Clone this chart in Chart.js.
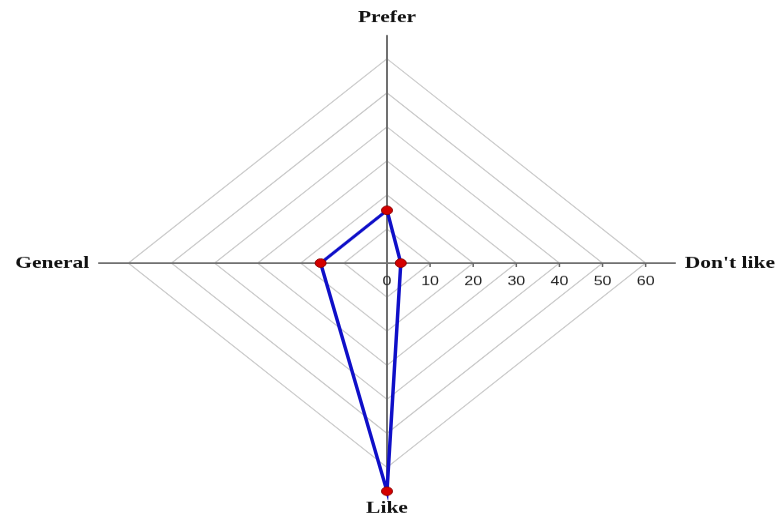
<!DOCTYPE html>
<html>
<head>
<meta charset="utf-8">
<script src="https://cdn.jsdelivr.net/npm/chart.js@4/dist/chart.umd.min.js"></script>
<style>
    html, body { margin: 0; padding: 0; background: #fff; overflow: hidden; }
    #wrap { width: 783px; height: 666px; transform: scaleY(0.79); transform-origin: 0 0; }
</style>
</head>
<body>
<div id="wrap"><canvas id="radar" width="783" height="666"></canvas></div>
<script>
"use strict"

// Kategorier (medurs från toppen) och värden i procent
const categories = ["Prefer", "Don't like", "Like", "General"];
const shares = [15.5, 3.2, 67, 15.4];
const tickValues = [0, 10, 20, 30, 40, 50, 60];
const axisMax = 67;

// Skriver skalans siffror längs axeln till höger (Don't like)
const axisTicks = {
    id: 'axisTicks',
    beforeDatasetsDraw(chart) {
        const scale = chart.scales.r;
        const ctx = chart.ctx;
        ctx.save();
        ctx.strokeStyle = '#666';
        ctx.lineWidth = 1.5;
        ctx.fillStyle = '#222';
        ctx.font = '16px "Liberation Sans", Arial, sans-serif';
        ctx.textAlign = 'center';
        ctx.textBaseline = 'middle';
        tickValues.forEach(v => {
            const p = scale.getPointPositionForValue(1, v);
            if (v > 0) {
                ctx.beginPath();
                ctx.moveTo(p.x, p.y);
                ctx.lineTo(p.x, p.y + 5);
                ctx.stroke();
            }
            ctx.fillText(String(v), p.x, p.y + 24);
        });
        ctx.restore();
    }
};

const ctx = document.getElementById('radar').getContext('2d');

new Chart(ctx, {
    type: 'radar',
    data: {
        labels: categories,
        datasets: [{
            data: shares,
            borderColor: '#0f0fc8',
            borderWidth: 3.5,
            fill: false,
            tension: 0,
            pointRadius: 5.5,
            pointBackgroundColor: '#d40000',
            pointBorderColor: '#8b0000',
            pointBorderWidth: 1
        }]
    },
    options: {
        responsive: false,
        animation: false,
        layout: { padding: { left: 8 } },
        plugins: {
            legend: { display: false },
            tooltip: { enabled: false }
        },
        scales: {
            r: {
                min: 0,
                max: axisMax,
                bounds: 'data',
                ticks: { display: false, stepSize: 10 },
                grid: {
                    circular: false,
                    lineWidth: 1.2,
                    color: c => (c.tick && c.tick.value > 60) ? 'rgba(0,0,0,0)' : '#c4c4c4'
                },
                angleLines: { color: '#707070', lineWidth: 2 },
                pointLabels: {
                    padding: 9,
                    color: '#111',
                    font: { family: '"Liberation Serif", "Times New Roman", serif', size: 21.5, weight: 'bold' }
                }
            }
        }
    },
    plugins: [axisTicks]
});
</script>
</body>
</html>
